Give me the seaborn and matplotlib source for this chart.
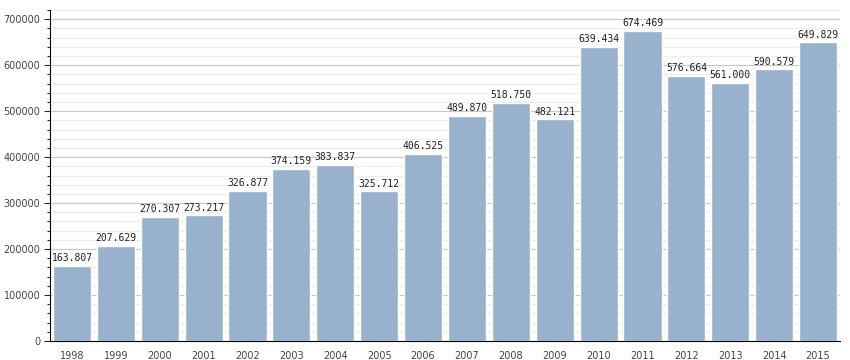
import matplotlib
matplotlib.use("Agg")
import matplotlib.pyplot as plt
import seaborn as sns
import pandas as pd
from matplotlib.ticker import MultipleLocator

years = ["1998", "1999", "2000", "2001", "2002", "2003", "2004", "2005", "2006",
         "2007", "2008", "2009", "2010", "2011", "2012", "2013", "2014", "2015"]
values = [163807, 207629, 270307, 273217, 326877, 374159, 383837, 325712, 406525,
          489870, 518750, 482121, 639434, 674469, 576664, 561000, 590579, 649829]

sns.set_style("white")
df = pd.DataFrame({"year": years, "value": values})

fig = plt.figure(figsize=(8.5, 3.6), dpi=100)
ax = fig.add_axes([50/850, 19/360, 790/850, 331/360])

ax.yaxis.set_major_locator(MultipleLocator(100000))
ax.yaxis.set_minor_locator(MultipleLocator(20000))
ax.grid(which="major", axis="y", color="#c8c8c8", linewidth=0.9)
ax.grid(which="minor", axis="y", color="#ececec", linewidth=0.8)
ax.set_axisbelow(True)

sns.barplot(data=df, x="year", y="value", color="#98b1cc", saturation=1,
            width=0.87, ax=ax)

for i, v in enumerate(values):
    s = f"{v:,}".replace(",", ".")
    ax.text(i, v + 6000, s, ha="center", va="bottom", fontsize=7,
            family="DejaVu Sans Mono", color="#222222")

ax.set_ylim(0, 720000)
ax.set_xlim(-0.5, len(years) - 0.5)
ax.set_xlabel("")
ax.set_ylabel("")
for side in ["top", "right"]:
    ax.spines[side].set_visible(False)
ax.spines["left"].set_color("black")
ax.spines["bottom"].set_color("black")
ax.tick_params(axis="y", which="major", left=True, length=4, width=0.8,
               labelsize=7, labelcolor="#444444", pad=3)
ax.tick_params(axis="y", which="minor", left=True, length=2.5, width=0.8)
ax.tick_params(axis="x", bottom=False, labelsize=7, labelcolor="#444444", pad=4)
ax.set_yticklabels([str(int(t)) for t in ax.get_yticks()])

fig.savefig("out.png", dpi=100)
